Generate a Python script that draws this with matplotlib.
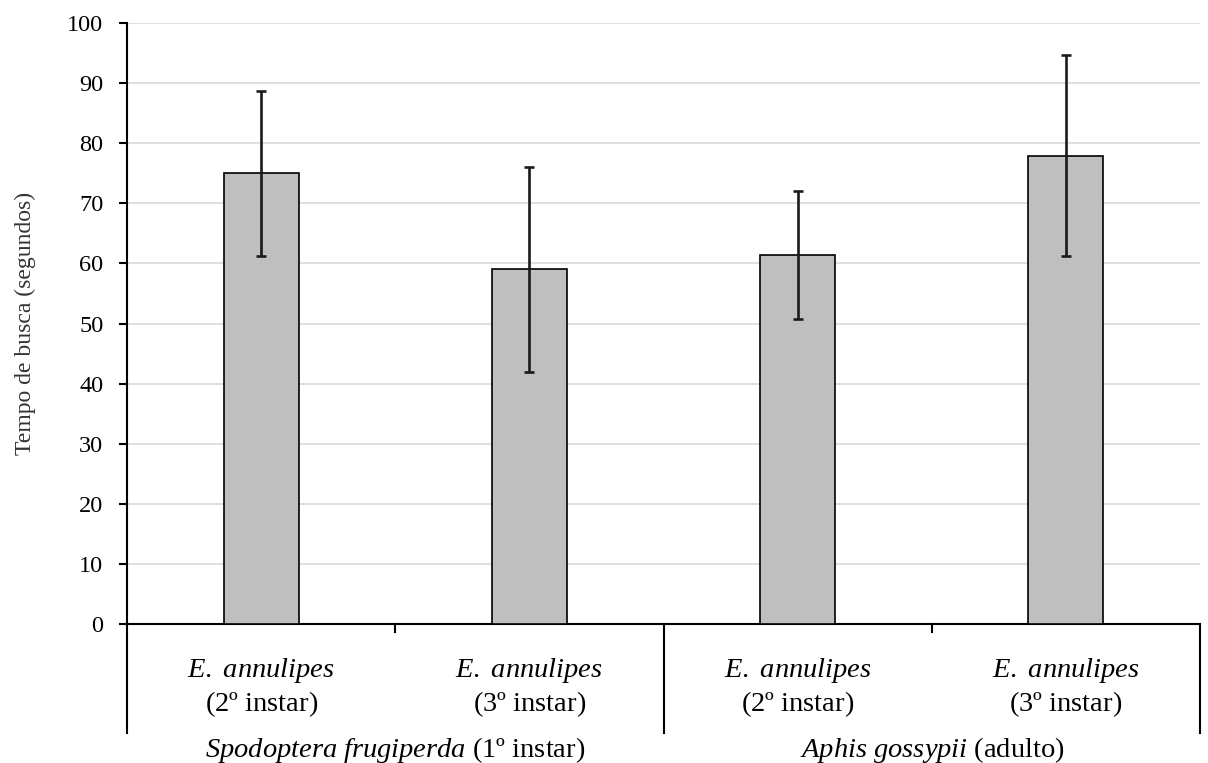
import matplotlib.pyplot as plt
import matplotlib.transforms as mtransforms

plt.rcParams['font.family'] = ['Liberation Serif', 'DejaVu Serif']
plt.rcParams['mathtext.fontset'] = 'custom'
plt.rcParams['mathtext.rm'] = 'Liberation Serif'
plt.rcParams['mathtext.it'] = 'Liberation Serif:italic'

# Data
predadores = [r"$\mathit{E.\ annulipes}$" + "\n" + r"$\mathit{(}$2º instar)",
              r"$\mathit{E.\ annulipes}$" + "\n" + r"$\mathit{(}$3º instar)",
              r"$\mathit{E.\ annulipes}$" + "\n" + r"$\mathit{(}$2º instar)",
              r"$\mathit{E.\ annulipes}$" + "\n" + r"$\mathit{(}$3º instar)"]
presas = [r"$\mathit{Spodoptera\ frugiperda\ (}$1º instar)",
          r"$\mathit{Aphis\ gossypii\ (}$adulto)"]
tempo = [75.0, 59.0, 61.4, 77.9]
erro = [13.7, 17.0, 10.7, 16.7]

fig = plt.figure(figsize=(12.08, 7.63), dpi=100)
ax = fig.add_axes([127 / 1208, 1 - 624 / 763, 1073 / 1208, 601 / 763])

x = list(range(len(tempo)))
ax.bar(x, tempo, width=0.28, color="#bfbfbf", edgecolor="black",
       linewidth=1.2, zorder=3)
ax.errorbar(x, tempo, yerr=erro, fmt="none", ecolor="#1a1a1a",
            elinewidth=1.9, capsize=3.6, capthick=1.9, zorder=4)

ax.set_xlim(-0.5, 3.5)
ax.set_ylim(0, 100)
ax.set_yticks(range(0, 101, 10))
ax.yaxis.grid(True, color="#d9d9d9", linewidth=1.2, zorder=0)
ax.set_axisbelow(True)
ax.tick_params(axis="y", labelsize=17.5, length=6, width=1.5, pad=11)
ax.set_xticks([])
ax.set_ylabel("Tempo de busca (segundos)", fontsize=17, color="#333333")
ax.yaxis.set_label_coords(-0.085, 0.5)

for s in ["top", "right"]:
    ax.spines[s].set_visible(False)
ax.spines["left"].set_linewidth(1.5)
ax.spines["bottom"].set_linewidth(1.5)

# category separators below the axis
trans = mtransforms.blended_transform_factory(ax.transData, ax.transAxes)
for xs in [-0.5, 1.5, 3.5]:
    ax.plot([xs, xs], [0, -0.181], transform=trans, color="black",
            linewidth=1.5, clip_on=False)
for xs in [0.5, 2.5]:
    ax.plot([xs, xs], [0, -0.013], transform=trans, color="black",
            linewidth=1.5, clip_on=False)

for xi, lab in zip(x, predadores):
    ax.text(xi, -0.106, lab, transform=trans, ha="center", va="center",
            fontsize=20.5, linespacing=1.22)
for xi, lab in zip([0.5, 2.5], presas):
    ax.text(xi, -0.21, lab, transform=trans, ha="center", va="center",
            fontsize=20.5)

plt.savefig("out.png", dpi=100)
